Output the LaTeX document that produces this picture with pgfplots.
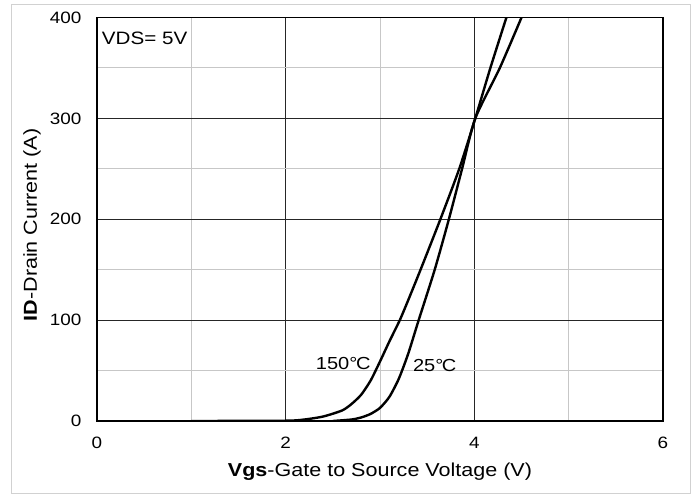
\documentclass[border=0pt]{standalone}
\usepackage{fontspec}
\setmainfont{Liberation Sans}[FakeStretch=1.15]
\usepackage{pgfplots}
\usepackage{pgfplotstable}
\pgfplotsset{compat=1.18}
\pgfplotstableread{
x y
1.00 0
2.00 0.3
2.20 1.5
2.40 4.5
2.60 10.5
2.70 17
2.80 26
2.90 40
3.00 59
3.10 79
3.21 100
3.30 120
3.43 150
3.64 200
3.84 250
4.01 300
4.17 350
4.34 400
}\hot
\pgfplotstableread{
x y
2.50 0
2.70 1.5
2.80 3.5
2.90 7
3.00 13
3.10 24
3.20 42
3.30 67
3.41 100
3.58 150
3.73 200
3.87 250
4.01 300
4.27 350
4.50 400
}\cold
\begin{document}
\begin{tikzpicture}
\begin{axis}[name=ax, scale only axis, width=566bp, height=403.5bp,
  xmin=0, xmax=6, ymin=0, ymax=400,
  xtick={0,2,4,6}, ytick={0,100,200,300,400},
  minor x tick num=1, minor y tick num=1,
  grid=both,
  major grid style={black!85, line width=0.9bp},
  minor grid style={black!22, line width=0.9bp},
  axis line style={line width=1.8bp},
  major tick length=0pt, minor tick length=0pt,
  /pgf/number format/assume math mode=true,
  ticklabel style={font=\fontsize{16.5}{18}\selectfont},
  xticklabel style={yshift=-13bp},
  yticklabel style={xshift=-12bp},
  xlabel={\textbf{Vgs}-Gate to Source Voltage (V)},
  ylabel={\textbf{ID}-Drain Current (A)},
  label style={font=\fontsize{18.8}{21}\selectfont},
  xlabel style={at={(axis description cs:0.5,-0.125)}, anchor=center},
  ylabel style={at={(axis description cs:-0.115,0.486)}, anchor=center},
]
\addplot[black, line width=2.4bp, smooth, tension=0.4] table[x=x,y=y] {\hot};
\addplot[black, line width=2.4bp, smooth, tension=0.4] table[x=x,y=y] {\cold};
\node[font=\fontsize{18}{20}\selectfont, anchor=west, inner sep=0pt] at (axis cs:0.05,379) {VDS= 5V};
\node[font=\fontsize{17.5}{20}\selectfont, inner sep=0pt] at (axis cs:2.61,57) {150°\kern-0.08em C};
\node[font=\fontsize{17.5}{20}\selectfont, inner sep=0pt] at (axis cs:3.58,55) {25°\kern-0.08em C};
\end{axis}
\draw[black!18, line width=1bp] ([shift={(-85bp,-72bp)}]ax.south west) rectangle ([shift={(27bp,12.5bp)}]ax.north east);
\pgfresetboundingbox
\path ([shift={(-97bp,-73bp)}]ax.south west) rectangle ([shift={(32bp,17.5bp)}]ax.north east);
\end{tikzpicture}
\end{document}
